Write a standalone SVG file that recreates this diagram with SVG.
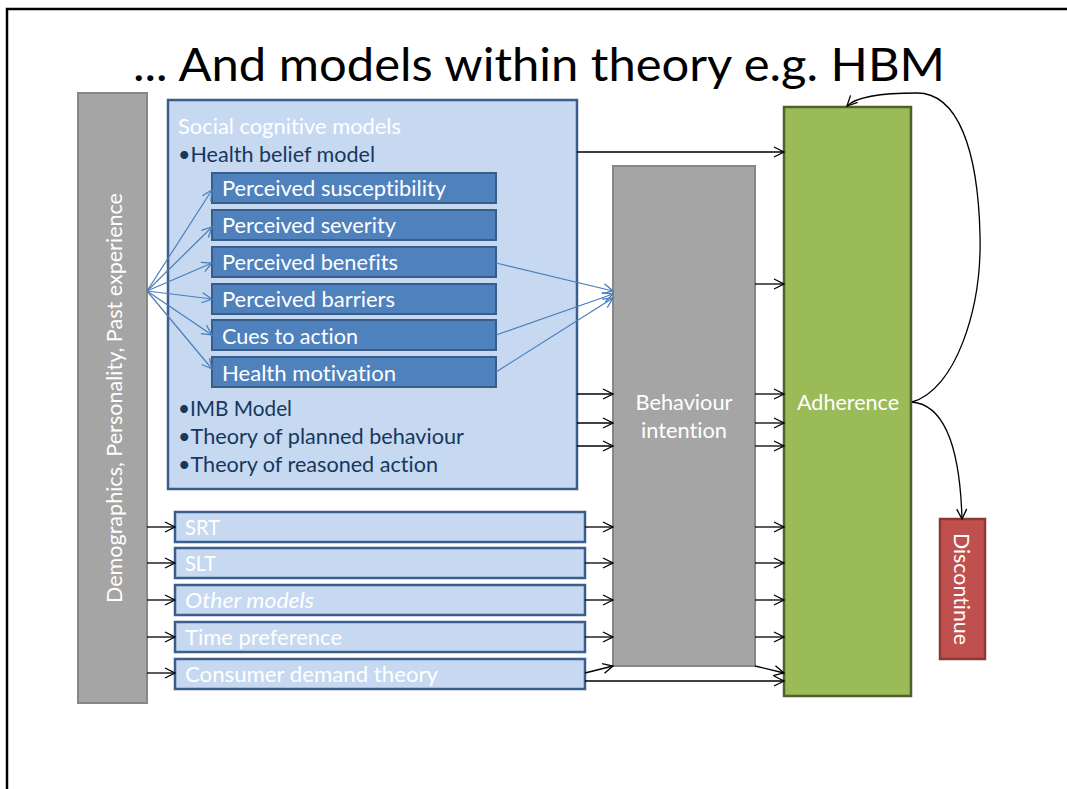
<svg xmlns="http://www.w3.org/2000/svg" width="1067" height="789" viewBox="0 0 1067 789">
<style>
text{font-family:Lato,"Open Sans","Liberation Sans",sans-serif;font-variant-ligatures:none;}
.t{font-size:21px;fill:#fff;}
.n{font-size:21px;fill:#17375e;}
.gray{fill:#a5a5a5;stroke:#878787;stroke-width:2;}
.lb{fill:#c6d9f1;stroke:#3b5e8c;stroke-width:2.5;}
.db{fill:#4f81bd;stroke:#385d8a;stroke-width:2;}
.k{stroke:#000;stroke-width:1.3;fill:none;marker-end:url(#ak);}
.b{stroke:#4a7ebb;stroke-width:1.2;fill:none;marker-end:url(#ab);}
</style>
<defs>
<marker id="ak" markerUnits="userSpaceOnUse" markerWidth="14" markerHeight="14" refX="11" refY="6" orient="auto"><path d="M1,1 L11,6 L1,11" fill="none" stroke="#000" stroke-width="1.3"/></marker>
<marker id="ab" markerUnits="userSpaceOnUse" markerWidth="14" markerHeight="14" refX="11" refY="6" orient="auto"><path d="M1,1 L11,6 L1,11" fill="none" stroke="#4a7ebb" stroke-width="1.3"/></marker>
</defs>
<rect width="1067" height="789" fill="#fff"/>
<g id="frame"><path d="M7,789 V9 H1067" fill="none" stroke="#000" stroke-width="2.5"/></g>
<g id="title"><text x="133" y="81" font-size="46" fill="#000" textLength="812" lengthAdjust="spacingAndGlyphs">... And models within theory e.g. HBM</text></g>

<g id="demographics">
<rect class="gray" x="78" y="93" width="69" height="610"/>
<text class="t" transform="translate(122,398) rotate(-90)" text-anchor="middle" textLength="410" lengthAdjust="spacingAndGlyphs">Demographics, Personality, Past experience</text>
</g>

<g id="social-cognitive">
<rect class="lb" x="168" y="100" width="409" height="389"/>
<text class="t" x="178" y="134" textLength="223" lengthAdjust="spacingAndGlyphs">Social cognitive models</text>
<text class="n" x="178" y="162" textLength="197" lengthAdjust="spacingAndGlyphs">•Health belief model</text>
<text class="n" x="178" y="416" textLength="114" lengthAdjust="spacingAndGlyphs">•IMB Model</text>
<text class="n" x="178" y="444" textLength="286" lengthAdjust="spacingAndGlyphs">•Theory of planned behaviour</text>
<text class="n" x="178" y="472" textLength="260" lengthAdjust="spacingAndGlyphs">•Theory of reasoned action</text>
</g>

<g id="susceptibility"><rect class="db" x="212" y="173" width="284" height="30"/><text class="t" x="222" y="196" textLength="224" lengthAdjust="spacingAndGlyphs">Perceived susceptibility</text></g>
<g id="severity"><rect class="db" x="212" y="210" width="284" height="30"/><text class="t" x="222" y="233" textLength="174" lengthAdjust="spacingAndGlyphs">Perceived severity</text></g>
<g id="benefits"><rect class="db" x="212" y="247" width="284" height="30"/><text class="t" x="222" y="270" textLength="176" lengthAdjust="spacingAndGlyphs">Perceived benefits</text></g>
<g id="barriers"><rect class="db" x="212" y="284" width="284" height="30"/><text class="t" x="222" y="307" textLength="173" lengthAdjust="spacingAndGlyphs">Perceived barriers</text></g>
<g id="cues"><rect class="db" x="212" y="320" width="284" height="30"/><text class="t" x="222" y="344" textLength="136" lengthAdjust="spacingAndGlyphs">Cues to action</text></g>
<g id="motivation"><rect class="db" x="212" y="357" width="284" height="30"/><text class="t" x="222" y="381" textLength="174" lengthAdjust="spacingAndGlyphs">Health motivation</text></g>

<g id="srt"><rect class="lb" x="175" y="512" width="410" height="30"/><text class="t" x="185" y="535" textLength="35" lengthAdjust="spacingAndGlyphs">SRT</text></g>
<g id="slt"><rect class="lb" x="175" y="548" width="410" height="30"/><text class="t" x="185" y="571" textLength="31" lengthAdjust="spacingAndGlyphs">SLT</text></g>
<g id="other"><rect class="lb" x="175" y="585" width="410" height="30"/><text class="t" x="185" y="608" font-style="italic" textLength="129" lengthAdjust="spacingAndGlyphs">Other models</text></g>
<g id="time"><rect class="lb" x="175" y="622" width="410" height="30"/><text class="t" x="185" y="645" textLength="157" lengthAdjust="spacingAndGlyphs">Time preference</text></g>
<g id="consumer"><rect class="lb" x="175" y="659" width="410" height="30"/><text class="t" x="185" y="682" textLength="253" lengthAdjust="spacingAndGlyphs">Consumer demand theory</text></g>

<g id="behaviour-intention">
<rect class="gray" x="613" y="166" width="142" height="500"/>
<text class="t" x="684" y="410" text-anchor="middle" textLength="97" lengthAdjust="spacingAndGlyphs">Behaviour</text>
<text class="t" x="684" y="438" text-anchor="middle" textLength="86" lengthAdjust="spacingAndGlyphs">intention</text>
</g>

<g id="adherence">
<rect x="784" y="107" width="127" height="589" fill="#9bbb59" stroke="#4f6228" stroke-width="2.5"/>
<text class="t" x="848" y="410" text-anchor="middle" textLength="102" lengthAdjust="spacingAndGlyphs">Adherence</text>
</g>

<g id="discontinue">
<rect x="940" y="519" width="45" height="140" fill="#c0504d" stroke="#8c3836" stroke-width="2.5"/>
<text class="t" transform="translate(954,589) rotate(90)" text-anchor="middle" textLength="112" lengthAdjust="spacingAndGlyphs">Discontinue</text>
</g>

<g id="connectors">
<path class="b" d="M147,291 L212,190"/>
<path class="b" d="M147,291 L212,227"/>
<path class="b" d="M147,291 L212,263"/>
<path class="b" d="M147,291 L212,299"/>
<path class="b" d="M147,291 L212,335"/>
<path class="b" d="M147,291 L212,369"/>
<path class="b" d="M496,263 L613,291"/>
<path class="b" d="M496,335 L613,294"/>
<path class="b" d="M496,372 L613,298"/>

<path class="k" d="M577,152 H784"/>
<path class="k" d="M755,284 H784"/>
<path class="k" d="M577,394 H613"/>
<path class="k" d="M577,423 H613"/>
<path class="k" d="M577,446 H613"/>
<path class="k" d="M755,394 H784"/>
<path class="k" d="M755,423 H784"/>
<path class="k" d="M755,446 H784"/>

<path class="k" d="M147,527 H175"/>
<path class="k" d="M147,563 H175"/>
<path class="k" d="M147,600 H175"/>
<path class="k" d="M147,637 H175"/>
<path class="k" d="M147,673 H175"/>

<path class="k" d="M585,527 H613"/>
<path class="k" d="M585,563 H613"/>
<path class="k" d="M585,600 H613"/>
<path class="k" d="M585,637 H613"/>
<path class="k" d="M585,673 L613,666"/>
<path class="k" d="M755,527 H784"/>
<path class="k" d="M755,563 H784"/>
<path class="k" d="M755,600 H784"/>
<path class="k" d="M755,637 H784"/>
<path class="k" d="M755,666 L784,673"/>
<path class="k" d="M585,681 H784" stroke="#404040"/>

<path class="k" d="M912,402 C955,390 982,310 980,235 C978,150 958,93 917,93 C880,93 856,97 847,106"/>
<path class="k" d="M912,402 C945,405 960,450 962,519"/>
</g>
</svg>
